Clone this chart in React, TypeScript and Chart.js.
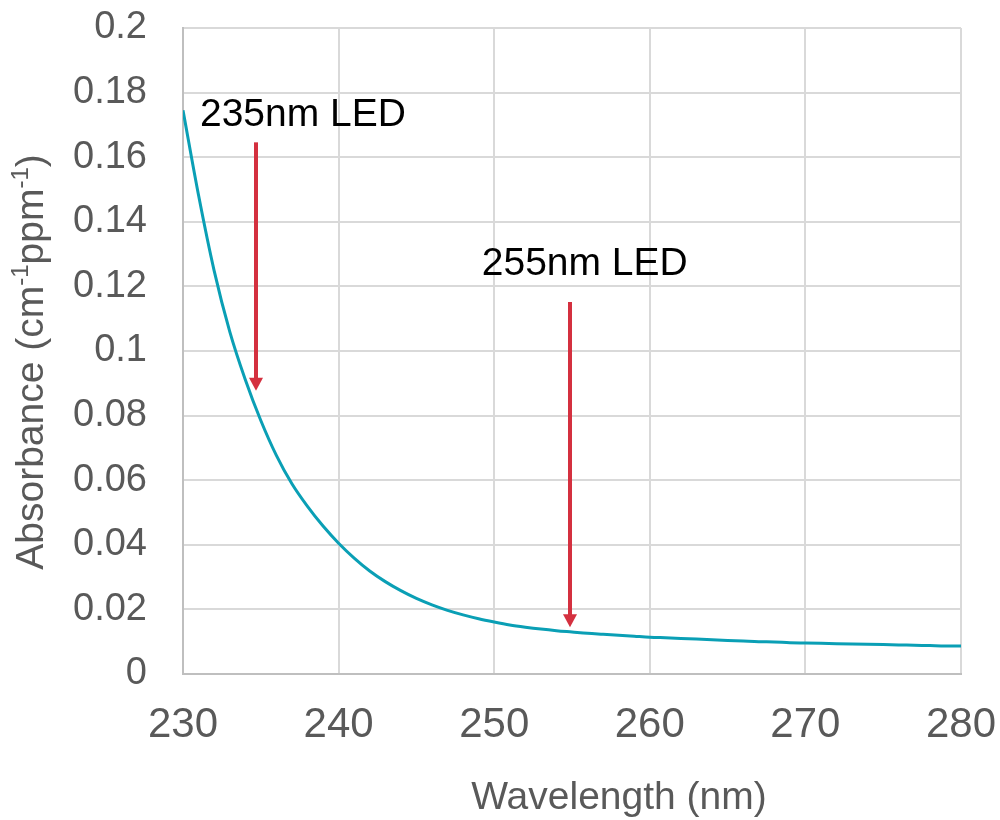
import React, { useEffect, useRef } from 'react';
import { Chart, registerables } from 'chart.js';

Chart.register(...registerables);

// ---- Data ----
const wavelengths = [
  230, 231, 232, 233, 234, 235, 236, 237, 238, 239,
  240, 241, 242, 243, 244, 245, 246, 247, 248, 249,
  250, 251, 252, 253, 254, 255, 256, 257, 258, 259,
  260, 261, 262, 263, 264, 265, 266, 267, 268, 269,
  270, 271, 272, 273, 274, 275, 276, 277, 278, 279, 280,
];
const absorbance = [
  0.1745, 0.1482, 0.1249, 0.1061, 0.0912, 0.0785, 0.0677, 0.0589, 0.0519, 0.0458,
  0.0405, 0.0359, 0.0319, 0.0286, 0.0258, 0.0234, 0.0214, 0.0197, 0.0183, 0.0171,
  0.0161, 0.0152, 0.0145, 0.0139, 0.0134, 0.013, 0.0126, 0.0123, 0.012, 0.0117,
  0.0114, 0.0112, 0.011, 0.0108, 0.0106, 0.0104, 0.0102, 0.01, 0.0099, 0.0097,
  0.0096, 0.0095, 0.0094, 0.0093, 0.0092, 0.0091, 0.009, 0.0089, 0.0088, 0.0087, 0.0087,
];
const xTicks = [230, 240, 250, 260, 270, 280];
const yTicks = [0, 0.02, 0.04, 0.06, 0.08, 0.1, 0.12, 0.14, 0.16, 0.18, 0.2];

// annotations (data units)
const annotationLabels = ['235nm LED', '255nm LED'];
const labelX = [231.09, 249.2];
const labelY = [0.1697, 0.1235];
const arrowX = [234.7, 254.85];
const arrowTop = [0.1646, 0.1152];
const arrowTip = [0.0877, 0.0145];

const xTitle = 'Wavelength (nm)';
const yTitleParts: { text: string; sup: boolean }[] = [
  { text: 'Absorbance (cm', sup: false },
  { text: '-1', sup: true },
  { text: 'ppm', sup: false },
  { text: '-1', sup: true },
  { text: ')', sup: false },
];

const FONT = '"Liberation Sans", Arial, sans-serif';
const GREY = '#595959';
const TEAL = '#0a9fb5';
const RED = '#d4303f';

const annotationPlugin = {
  id: 'ledAnnotations',
  afterDatasetsDraw(chart: any) {
    const { ctx, scales } = chart;
    const xs = scales.x;
    const ys = scales.y;
    ctx.save();
    for (let i = 0; i < arrowX.length; i++) {
      const px = Math.round(xs.getPixelForValue(arrowX[i]));
      const top = ys.getPixelForValue(arrowTop[i]);
      const tip = ys.getPixelForValue(arrowTip[i]);
      const headH = 13;
      const headW = 14;
      ctx.strokeStyle = RED;
      ctx.fillStyle = RED;
      ctx.lineWidth = 4;
      ctx.beginPath();
      ctx.moveTo(px, top);
      ctx.lineTo(px, tip - headH + 1);
      ctx.stroke();
      ctx.beginPath();
      ctx.moveTo(px - headW / 2, tip - headH);
      ctx.lineTo(px + headW / 2, tip - headH);
      ctx.lineTo(px, tip);
      ctx.closePath();
      ctx.fill();
    }
    ctx.fillStyle = '#000000';
    ctx.font = `39px ${FONT}`;
    ctx.textAlign = 'left';
    ctx.textBaseline = 'alphabetic';
    for (let i = 0; i < annotationLabels.length; i++) {
      ctx.fillText(annotationLabels[i], xs.getPixelForValue(labelX[i]), ys.getPixelForValue(labelY[i]));
    }
    ctx.restore();
  },
  afterDraw(chart: any) {
    const { ctx } = chart;
    const size = 39;
    const supSize = 24;
    ctx.save();
    ctx.fillStyle = GREY;
    ctx.textBaseline = 'alphabetic';

    // x-axis title
    ctx.font = `${size}px ${FONT}`;
    ctx.textAlign = 'center';
    ctx.fillText(xTitle, 619, 809);

    // y-axis title with real superscripts
    ctx.textAlign = 'left';
    let total = 0;
    const widths: number[] = [];
    for (const p of yTitleParts) {
      ctx.font = `${p.sup ? supSize : size}px ${FONT}`;
      const w = ctx.measureText(p.text).width;
      widths.push(w);
      total += w;
    }
    ctx.translate(43, 362);
    ctx.rotate(-Math.PI / 2);
    let x = -total / 2;
    yTitleParts.forEach((p, i) => {
      ctx.font = `${p.sup ? supSize : size}px ${FONT}`;
      ctx.fillText(p.text, x, p.sup ? -15 : 0);
      x += widths[i];
    });
    ctx.restore();
  },
};

export default function App() {
  const canvasRef = useRef<HTMLCanvasElement | null>(null);

  useEffect(() => {
    if (!canvasRef.current) return;
    const chart = new Chart(canvasRef.current, {
      type: 'line',
      data: {
        datasets: [
          {
            data: wavelengths.map((w, i) => ({ x: w, y: absorbance[i] })),
            borderColor: TEAL,
            borderWidth: 3,
            pointRadius: 0,
            fill: false,
            cubicInterpolationMode: 'monotone',
          },
        ],
      },
      options: {
        animation: false,
        responsive: true,
        maintainAspectRatio: false,
        layout: { autoPadding: false, padding: { top: 28, right: 39, bottom: 0, left: 0 } },
        plugins: {
          legend: { display: false },
          tooltip: { enabled: false },
        },
        scales: {
          x: {
            type: 'linear',
            min: 230,
            max: 280,
            afterBuildTicks: (s: any) => {
              s.ticks = xTicks.map((v) => ({ value: v }));
            },
            afterFit: (s: any) => {
              s.height = 146;
              s.paddingLeft = 0;
              s.paddingRight = 0;
              s.paddingTop = 0;
              s.paddingBottom = 0;
            },
            grid: { color: '#d9d9d9', lineWidth: 2, drawTicks: false },
            border: { color: '#bfbfbf', width: 2 },
            ticks: {
              color: GREY,
              font: { family: FONT, size: 42 },
              padding: 26,
              maxRotation: 0,
              callback: (v: any) => String(v),
            },
            title: { display: false, text: xTitle },
          },
          y: {
            type: 'linear',
            min: 0,
            max: 0.2,
            afterBuildTicks: (s: any) => {
              s.ticks = yTicks.map((v) => ({ value: v }));
            },
            afterFit: (s: any) => {
              s.width = 183;
              s.paddingLeft = 0;
              s.paddingRight = 0;
              s.paddingTop = 0;
              s.paddingBottom = 0;
            },
            grid: { color: '#d9d9d9', lineWidth: 2, drawTicks: false },
            border: { color: '#bfbfbf', width: 2 },
            ticks: {
              color: GREY,
              font: { family: FONT, size: 38 },
              padding: 36,
              callback: (v: any) => String(Number(Number(v).toFixed(2))),
            },
          },
        },
      },
      plugins: [annotationPlugin],
    } as any);
    return () => chart.destroy();
  }, []);

  return (
    <div style={{ position: 'fixed', left: 0, top: 0, width: 1000, height: 820, background: '#ffffff' }}>
      <canvas ref={canvasRef} />
    </div>
  );
}
